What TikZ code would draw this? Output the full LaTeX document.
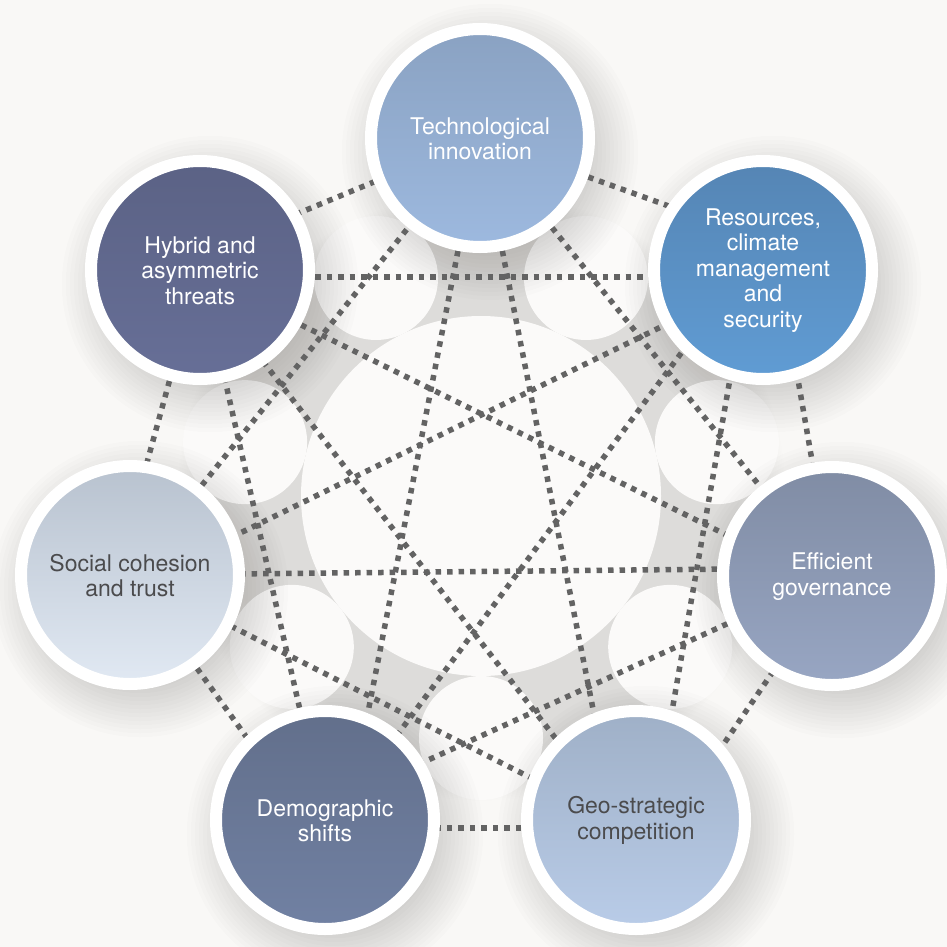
\documentclass[tikz,border=0pt]{standalone}
\usepackage{fontspec}
\setmainfont{TeX Gyre Heros}
\usetikzlibrary{calc}
\pgfdeclarelayer{back}
\pgfdeclarelayer{front}
\pgfsetlayers{back,main,front}
\definecolor{bgc}{HTML}{F9F8F6}
\definecolor{ringgray}{HTML}{DDDCDA}
\definecolor{bubc}{HTML}{FBFAF9}
\definecolor{dotc}{HTML}{636363}
\definecolor{shadc}{HTML}{4A4540}
\definecolor{darktext}{HTML}{4B4B4D}
\definecolor{techA}{HTML}{8AA2C2}\definecolor{techB}{HTML}{9DB9DF}
\definecolor{resA}{HTML}{5585B4}\definecolor{resB}{HTML}{609CD4}
\definecolor{govA}{HTML}{808CA4}\definecolor{govB}{HTML}{98A6C3}
\definecolor{geoA}{HTML}{9FB0C7}\definecolor{geoB}{HTML}{B9CCE8}
\definecolor{demA}{HTML}{626F8B}\definecolor{demB}{HTML}{7181A3}
\definecolor{socA}{HTML}{B8C2CF}\definecolor{socB}{HTML}{E1E9F3}
\definecolor{hybA}{HTML}{5B6285}\definecolor{hybB}{HTML}{676F97}
\pgfdeclareradialshading{grayfade}{\pgfpoint{0bp}{0bp}}{color(0bp)=(ringgray); color(21bp)=(ringgray); color(25bp)=(bgc); color(50bp)=(bgc)}
\begin{document}
\begin{tikzpicture}[x=1bp,y=-1bp,
  topic/.style={circle, inner sep=0pt, minimum size=218bp, draw=white, line width=12bp,
    align=center, font=\fontsize{23bp}{25.5bp}\selectfont, text=white, shading angle=45},
  dotline/.style={draw=dotc, line width=5.5bp, dash pattern=on 5.5bp off 6bp}]
\useasboundingbox (0,0) rectangle (947,947);
\coordinate (c0) at (481,496);
\begin{pgfonlayer}{front}
\node[topic, top color=techA, bottom color=techB] (tech) at (480,138) {\strut Technological\\innovation};
\node[topic, top color=resA, bottom color=resB] (res) at (763,270) {\strut Resources,\\climate\\management\\and\\security};
\node[topic, top color=govA, bottom color=govB] (gov) at (832,576) {\strut Efficient\\governance};
\node[topic, top color=geoA, bottom color=geoB, text=darktext] (geo) at (636,820) {\strut Geo-strategic\\competition};
\node[topic, top color=demA, bottom color=demB] (dem) at (325,820) {\strut Demographic\\shifts};
\node[topic, top color=socA, bottom color=socB, text=darktext] (soc) at (130,575) {\strut Social cohesion\\and trust};
\node[topic, top color=hybA, bottom color=hybB] (hyb) at (200,270) {\strut Hybrid and\\asymmetric\\threats};
\end{pgfonlayer}
\begin{pgfonlayer}{back}
\fill[bgc] (0,0) rectangle (947,947);
\shade[shading=grayfade] (c0) circle (305bp);
\foreach \k in {0,...,6}{
  \fill[bubc] ($(c0)+({\k*51.4286-64.2857}:242)$) circle (62bp);
}
\fill[bubc] (c0) circle (180bp);
\foreach \n in {tech,res,gov,geo,dem,soc,hyb}{
  \foreach \r in {96,100,...,150}{
    \fill[shadc,opacity=0.014] ($(\n.center)+(10,14)$) circle (\r bp);
  }
}
\end{pgfonlayer}
% adjacent
\draw[dotline] ($(hyb)+(0,-16)$) -- (tech);
\draw[dotline] (tech) -- ($(res)+(0,-30)$);
\draw[dotline] ($(res)+(16,0)$) -- (gov);
\draw[dotline] ($(gov)+(6,0)$) -- ($(geo)+(36,0)$);
\draw[dotline] ($(geo)+(0,8)$) -- ($(dem)+(0,8)$);
\draw[dotline] (soc) -- ($(dem)+(-19,0)$);
\draw[dotline] (hyb) -- ($(soc)+(-14,0)$);
% skip one
\draw[dotline] ($(hyb)+(0,7)$) -- ($(res)+(0,7)$);
\draw[dotline] (tech) -- (gov);
\draw[dotline] ($(res)+(-14,0)$) -- ($(geo)+(17,0)$);
\draw[dotline] (gov) -- ($(dem)+(0,-13)$);
\draw[dotline] ($(geo)+(0,11)$) -- (soc);
\draw[dotline] (dem) -- (hyb);
\draw[dotline] (soc) -- (tech);
% skip two
\draw[dotline] (tech) -- ($(dem)+(22,0)$);
\draw[dotline] (tech) -- ($(geo)+(-21,0)$);
\draw[dotline] ($(res)+(-20,0)$) -- ($(dem)+(9,0)$);
\draw[dotline] ($(res)+(0,7)$) -- ($(soc)+(0,12)$);
\draw[dotline] ($(gov)+(0,-8)$) -- (soc);
\draw[dotline] ($(gov)+(0,11)$) -- ($(hyb)+(0,5)$);
\draw[dotline] ($(geo)+(-17,0)$) -- ($(hyb)+(-8,0)$);
\end{tikzpicture}
\end{document}
